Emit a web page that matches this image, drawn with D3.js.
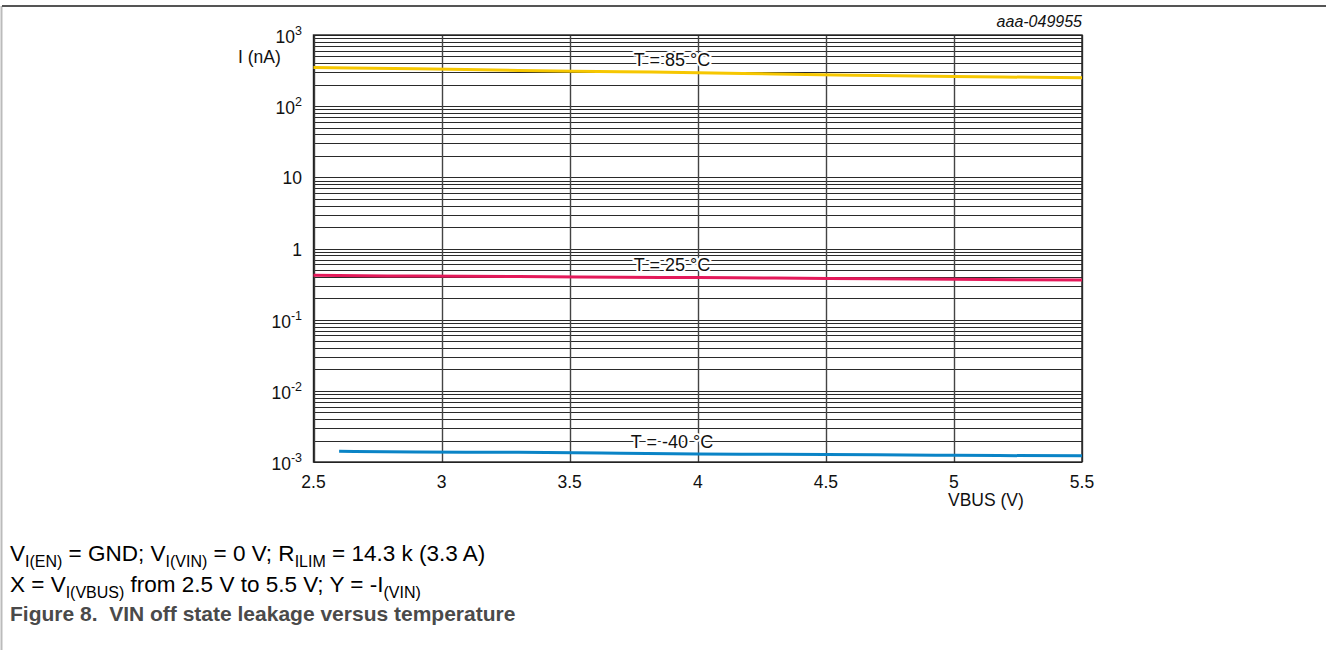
<!DOCTYPE html>
<html><head><meta charset="utf-8">
<script src="https://cdn.jsdelivr.net/npm/d3@7"></script>
<style>
body{margin:0;background:#fff;}
svg text{font-family:"Liberation Sans",Arial,sans-serif;}
</style></head>
<body><svg id="c" width="1326" height="650"></svg>
<script>
const xTicks = [2.5, 3, 3.5, 4, 4.5, 5, 5.5];
const xTickLabels = ["2.5", "3", "3.5", "4", "4.5", "5", "5.5"];
const yDecades = [1e-3, 1e-2, 1e-1, 1, 10, 100, 1000];
const yTickLabels = [["10","-3"],["10","-2"],["10","-1"],["1",""],["10",""],["10","2"],["10","3"]];
const vbus = [2.6, 2.9, 3.3, 3.7, 4.0, 4.3, 4.7, 5.0, 5.5];
const x85 = [2.5, 2.9, 3.3, 3.7, 4.0, 4.3, 4.7, 5.0, 5.5];
const i85 = [350, 335, 318, 305, 295, 283, 270, 262, 250];
const i25 = [0.42, 0.41, 0.405, 0.395, 0.39, 0.385, 0.375, 0.37, 0.36];
const iM40 = [0.00142, 0.00138, 0.00137, 0.00133, 0.0013, 0.00128, 0.00126, 0.00124, 0.00122];
const seriesNames = ["T = 85 °C", "T = 25 °C", "T = -40 °C"];
const seriesColors = ["#f6c700", "#e4195a", "#0a84c6"];
const labelVals = [446, 0.6, 0.00193];

const svg = d3.select("#c");
const L = 313.5, R = 1082, T = 35, B = 462;
const x = d3.scaleLinear().domain([2.5, 5.5]).range([L, R]);
const y = d3.scaleLog().domain([1e-3, 1e3]).range([B, T]);

// frame
svg.append("line").attr("x1",1.5).attr("x2",1.5).attr("y1",6).attr("y2",650).attr("stroke","#bbb").attr("stroke-width",2);
svg.append("line").attr("x1",2).attr("x2",1326).attr("y1",6).attr("y2",6).attr("stroke","#555").attr("stroke-width",2);

// horizontal grid
const minor = [];
for (let e = -3; e < 3; e++) for (let m = 1; m <= 9; m++) minor.push(m * Math.pow(10, e));
minor.push(1000);
svg.append("g").selectAll("line").data(minor).join("line")
  .attr("x1", L).attr("x2", R)
  .attr("y1", d => Math.round(y(d)) + 0.5).attr("y2", d => Math.round(y(d)) + 0.5)
  .attr("stroke", "#2a2a2a").attr("stroke-width", 1.2);
// vertical grid
svg.append("g").selectAll("line").data(xTicks).join("line")
  .attr("x1", d => Math.round(x(d)) + 0.5).attr("x2", d => Math.round(x(d)) + 0.5)
  .attr("y1", T).attr("y2", B).attr("stroke", "#444").attr("stroke-width", 1.4);
svg.append("rect").attr("x", L).attr("y", T).attr("width", R - L).attr("height", B - T)
  .attr("fill", "none").attr("stroke", "#222").attr("stroke-width", 1.4);

// lines
const line = d3.line().x(d => x(d[0])).y(d => y(d[1])).curve(d3.curveMonotoneX);
const data = [x85.map((v, i) => [v, i85[i]]), x85.map((v, i) => [v, i25[i]]), vbus.map((v, i) => [v, iM40[i]])];
data.forEach((d, i) => {
  svg.append("path").datum(d).attr("d", line).attr("fill", "none")
    .attr("stroke", seriesColors[i]).attr("stroke-width", 3);
});

// series labels with halo
seriesNames.forEach((n, i) => {
  svg.append("text").attr("x", 672).attr("y", y(labelVals[i])).attr("dy", "0.36em")
    .attr("text-anchor", "middle").attr("font-size", 18).attr("fill", "#111")
    .attr("stroke", "#fff").attr("stroke-width", 4).attr("paint-order", "stroke")
    .attr("stroke-linejoin", "round").text(n);
});

// y tick labels
const yl = svg.append("g");
yDecades.forEach((d, i) => {
  const plain = !yTickLabels[i][1];
  const t = yl.append("text").attr("x", 302).attr("y", y(d) + (plain ? 7 : 8))
    .attr("text-anchor", "end").attr("font-size", 17.5).attr("fill", "#111");
  t.append("tspan").text(yTickLabels[i][0]);
  if (!plain) t.append("tspan").attr("dy", -8).attr("font-size", 12.5).text(yTickLabels[i][1]);
});
svg.append("text").attr("x", 238).attr("y", 63).attr("font-size", 17.5).attr("fill", "#111").text("I (nA)");

// x tick labels
svg.append("g").selectAll("text").data(xTicks).join("text")
  .attr("x", d => x(d)).attr("y", 488).attr("text-anchor", "middle")
  .attr("font-size", 17.5).attr("fill", "#111").text((d, i) => xTickLabels[i]);
svg.append("text").attr("x", 948).attr("y", 506).attr("font-size", 17.5).attr("fill", "#111").text("VBUS (V)");

svg.append("text").attr("x", 1082).attr("y", 27).attr("text-anchor", "end").attr("font-size", 16)
  .attr("font-style", "italic").attr("fill", "#111").text("aaa-049955");

// caption
const sub = (t, s, s2) => { t.append("tspan").attr("dy", 6).attr("font-size", 16).text(s); t.append("tspan").attr("dy", -6).text(s2); };
const c1 = svg.append("text").attr("x", 10).attr("y", 561).attr("font-size", 22.5).attr("fill", "#000");
c1.append("tspan").text("V");
sub(c1, "I(EN)", " = GND; V");
sub(c1, "I(VIN)", " = 0 V; R");
sub(c1, "ILIM", " = 14.3 k (3.3 A)");
const c2 = svg.append("text").attr("x", 10).attr("y", 592).attr("font-size", 22.5).attr("fill", "#000");
c2.append("tspan").text("X = V");
sub(c2, "I(VBUS)", " from 2.5 V to 5.5 V; Y = -I");
c2.append("tspan").attr("dy", 6).attr("font-size", 16).text("(VIN)");
svg.append("text").attr("x", 10).attr("y", 621).attr("font-size", 21).attr("font-weight", "bold")
  .attr("fill", "#4a4a4a").attr("xml:space", "preserve").style("white-space", "pre")
  .text("Figure 8.  VIN off state leakage versus temperature");
</script></body></html>
